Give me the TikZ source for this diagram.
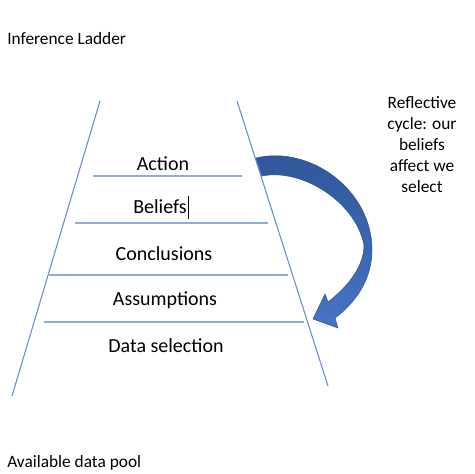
\documentclass[tikz,border=0pt]{standalone}
\usepackage{fontspec}
\setmainfont{Carlito}
\usepackage{tikz, xcolor}
\definecolor{rail}{RGB}{104,140,210}
\definecolor{rung}{RGB}{143,170,220}
\definecolor{arrowtop}{RGB}{47,85,151}
\definecolor{arrowbottom}{RGB}{70,116,198}

\begin{document}
\begin{tikzpicture}[x=0.75pt, y=-0.75pt,
    side/.style={inner sep=0, font=\fontsize{13}{15.75}\selectfont},
    step label/.style={inner sep=0, anchor=base, font=\fontsize{15}{18}\selectfont}]
    \useasboundingbox (0, 0) rectangle (474, 474);

    \node [side, anchor=base west] (title) at (7, 45) {Inference Ladder};
    \node [side, anchor=base west] (pool) at (7, 467) {Available data pool};
    \node [side, anchor=base, align=center] (cycle) at (422, 192)
      {Reflective\\cycle: our\\beliefs\\affect we\\select};

    % ladder sides
    \draw [color=rail, line width=0.8pt] (100, 101) to (12, 396);
    \draw [color=rail, line width=0.8pt] (237, 101) to (328, 386);

    % rungs
    \foreach \y/\xa/\xb in {176/93/242, 223/75/268, 275/48/288, 322/44/304}
    {
      \draw [color=rung, line width=1.1pt] (\xa, \y) to (\xb, \y);
    }

    \node [step label] (action) at (163, 170) {Action};
    \node [step label] (beliefs) at (160, 213) {Beliefs};
    \node [step label] (conclusions) at (164, 260) {Conclusions};
    \node [step label] (assumptions) at (165, 305) {Assumptions};
    \node [step label] (data) at (166, 352) {Data selection};
    \draw [line width=0.6pt] (188.5, 196) to (188.5, 219);

    % curved arrow back down the ladder
    \shadedraw [top color=arrowtop, bottom color=arrowbottom, draw=arrowtop, line width=0.4pt]
      (256, 158) .. controls (310, 145) and (372, 190) .. (372, 250)
      .. controls (372, 280) and (355, 303) .. (335, 318)
      -- (338, 328) -- (313, 319) -- (325, 294) -- (328, 302)
      .. controls (350, 285) and (364, 265) .. (364, 245)
      .. controls (355, 200) and (300, 168) .. (262, 176) -- cycle;

  \end{tikzpicture}
\end{document}
